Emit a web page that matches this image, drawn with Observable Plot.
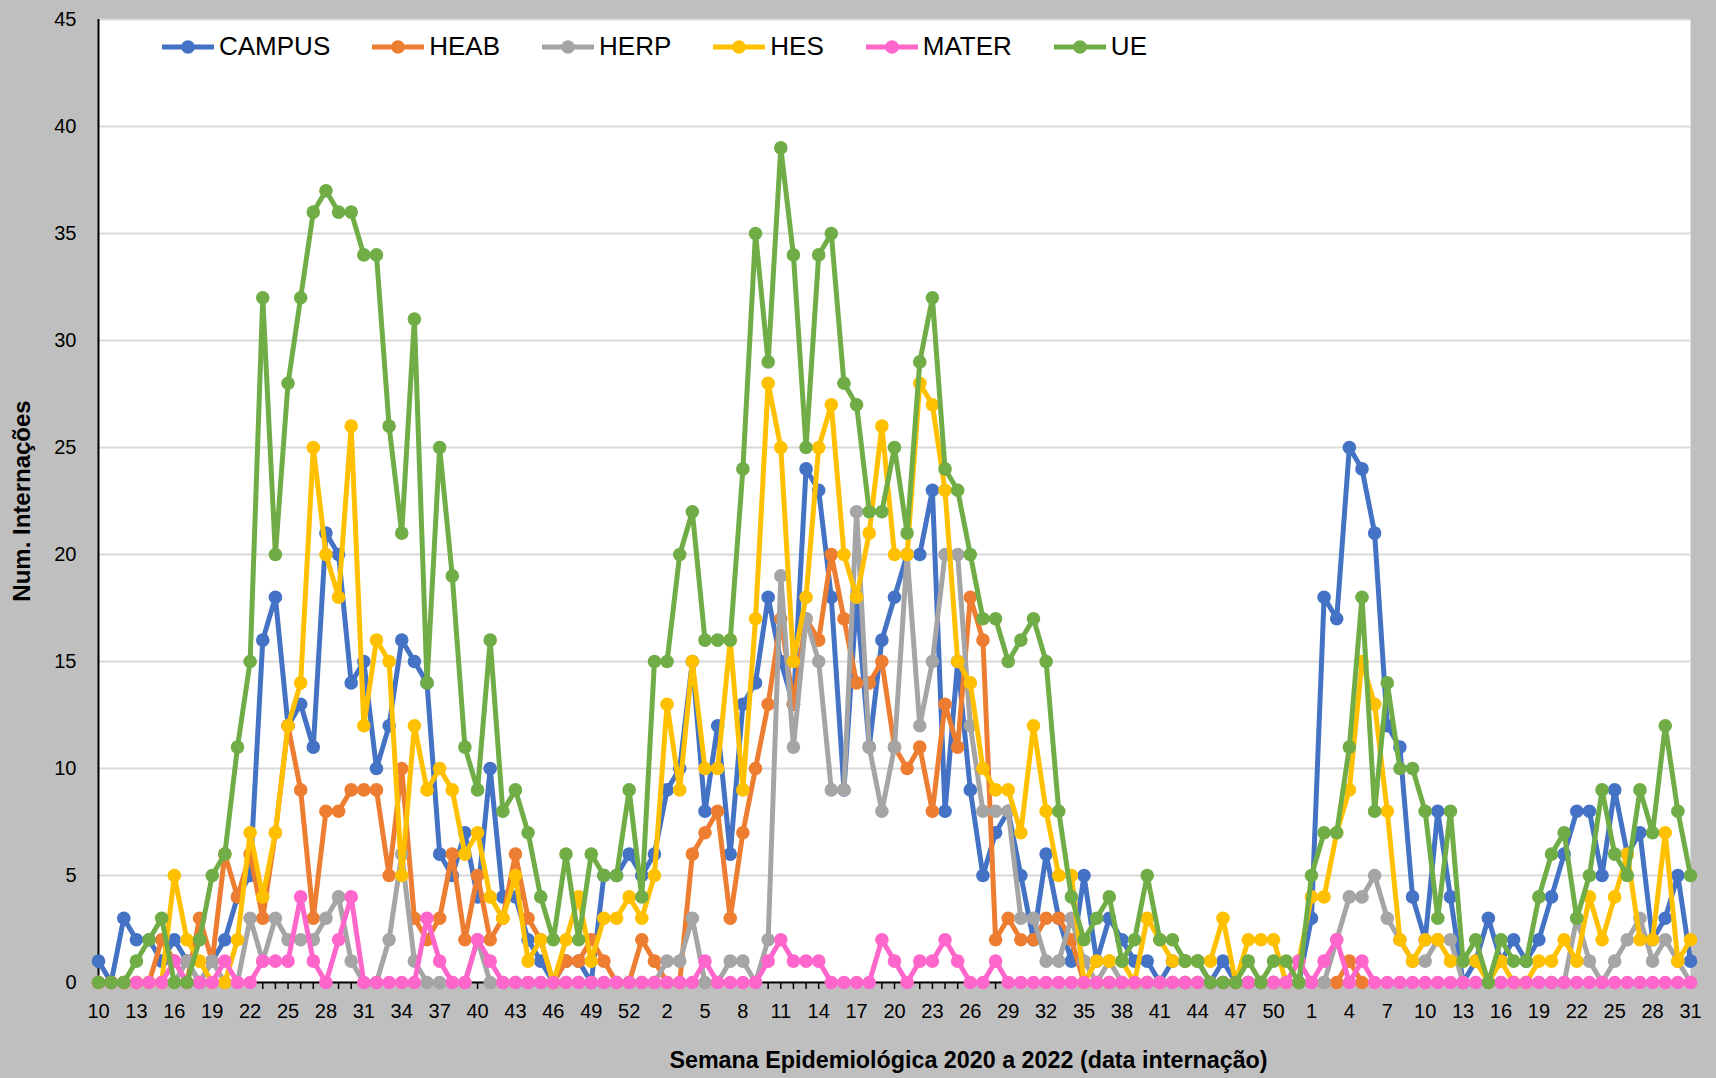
<!DOCTYPE html>
<html><head><meta charset="utf-8">
<script src="https://cdn.jsdelivr.net/npm/d3@7"></script>
<script src="https://cdn.jsdelivr.net/npm/@observablehq/plot@0.6"></script>
<style>
body{margin:0;background:#bfbfbf;}
#wrap{position:relative;width:1716px;height:1078px;font-family:"Liberation Sans",Arial,sans-serif;}
#legend{position:absolute;left:162px;top:31px;display:flex;gap:42px;align-items:center;font-size:26px;color:#000;}
.item{display:flex;align-items:center;gap:5px;}
.item svg{display:block;}
</style></head><body><div id="wrap"><div id="legend"></div></div>
<script>
const weeks2020 = [10,11,12,13,14,15,16,17,18,19,20,21,22,23,24,25,26,27,28,29,30,31,32,33,34,35,36,37,38,39,40,41,42,43,44,45,46,47,48,49,50,51,52,53];
const weeks2021 = [1,2,3,4,5,6,7,8,9,10,11,12,13,14,15,16,17,18,19,20,21,22,23,24,25,26,27,28,29,30,31,32,33,34,35,36,37,38,39,40,41,42,43,44,45,46,47,48,49,50,51,52];
const weeks2022 = [1,2,3,4,5,6,7,8,9,10,11,12,13,14,15,16,17,18,19,20,21,22,23,24,25,26,27,28,29,30,31];
const weeks = [...weeks2020, ...weeks2021, ...weeks2022];

const seriesNames = ["CAMPUS","HEAB","HERP","HES","MATER","UE"];
const seriesColors = ["#4472C4","#ED7D31","#A5A5A5","#FFC000","#FF66CC","#70AD47"];

const campus = [1,0,3,2,2,1,2,1,0,1, 2,4,5,16,18,12,13,11,21,20, 14,15,10,12,16,15,14,6,5,7, 4,10,4,4,2,1,0,1,1,0,
 5,5,6,5,6,9,10,15,8,12, 6,13,14,18,15,13,24,23,18,9, 18,11,16,18,20,20,23,8,15,9, 5,7,8,5,2,6,3,1,5,1,
 3,2,1,1,0,1,1,1,0,1, 0,0,0,0,0,0,3,18,17,25, 24,21,12,11,4,2,8,4,0,1, 3,1,2,1,2,4,6,8,8,5, 9,6,7,2,3,5,1];
const heab = [0,0,0,0,0,2,1,0,3,1, 6,4,6,3,7,12,9,3,8,8, 9,9,9,5,10,3,2,3,6,2, 5,2,3,6,3,2,0,1,1,2,
 1,0,0,2,1,0,0,6,7,8, 3,7,10,13,17,13,17,16,20,17, 14,14,15,11,10,11,8,13,11,18, 16,2,3,2,2,3,3,2,0,0,
 0,0,0,0,0,0,0,0,0,0, 0,0,0,0,0,0,null,0,0,1, 0,null,null,null,null,null,null,null,null,null,
 null,null,null,null,null,null,null,null,null,null, null,null,null,null,null,null,null];
const herp = [0,0,0,0,0,0,0,1,0,1, 0,0,3,1,3,2,2,2,3,4, 1,0,0,2,6,1,0,0,0,0, 2,0,0,0,0,0,0,0,0,0,
 0,0,0,0,0,1,1,3,0,0, 1,1,0,2,19,11,17,15,9,9, 22,11,8,11,20,12,15,20,20,12, 8,8,8,3,3,1,1,3,1,0,
 1,0,0,0,0,0,0,0,0,0, 0,0,0,0,0,0,0,0,2,4, 4,5,3,2,1,1,2,2,0,0, 0,0,0,0,0,0,0,3,1,0, 1,2,3,1,2,1,0];
const hes = [0,0,0,0,0,0,5,2,1,0, 0,2,7,4,7,12,14,25,20,18, 26,12,16,15,5,12,9,10,9,6, 7,4,3,5,1,2,0,2,4,1,
 3,3,4,3,5,13,9,15,10,10, 16,9,17,28,25,15,18,25,27,20, 18,21,26,20,20,28,27,23,15,14, 10,9,9,7,12,8,5,5,0,1,
 1,1,0,3,2,1,1,1,1,3, 0,2,2,2,0,1,4,4,7,9, 15,13,8,2,1,2,2,1,1,1, 0,1,0,0,1,1,2,1,4,2, 4,6,2,2,7,1,2];
const mater = [0,0,0,0,0,0,1,0,0,0, 1,0,0,1,1,1,4,1,0,2, 4,0,0,0,0,0,3,1,0,0, 2,1,0,0,0,0,0,0,0,0,
 0,0,0,0,0,0,0,0,1,0, 0,0,0,1,2,1,1,1,0,0, 0,0,2,1,0,1,1,2,1,0, 0,1,0,0,0,0,0,0,0,0,
 0,0,0,0,0,0,0,0,0,0, 0,0,0,0,0,1,0,1,2,0, 1,0,0,0,0,0,0,0,0,0, 0,0,0,0,0,0,0,0,0,0, 0,0,0,0,0,0,0];
const ue = [0,0,0,1,2,3,0,0,2,5, 6,11,15,32,20,28,32,36,37,36, 36,34,34,26,21,31,14,25,19,11, 9,16,8,9,7,4,2,6,2,6,
 5,5,9,4,15,15,20,22,16,16, 16,24,35,29,39,34,25,34,35,28, 27,22,22,25,21,29,32,24,23,20, 17,17,15,16,17,15,8,4,2,3,
 4,1,2,5,2,2,1,1,0,0, 0,1,0,1,1,0,5,7,7,11, 18,8,14,10,10,8,3,8,1,2, 0,2,1,1,4,6,7,3,5,9, 6,5,9,7,12,8,5];

const yTicks = [0,5,10,15,20,25,30,35,40,45];
const yTitle = "Num. Internações";
const xTitle = "Semana Epidemiológica 2020 a 2022 (data internação)";

const seriesValues = [campus, heab, herp, hes, mater, ue];
const idx = weeks.map((w, i) => i);
const labelIdx = idx.filter(i => i % 3 === 0);

const seriesMarks = [];
seriesNames.forEach((name, k) => {
  const d = seriesValues[k].map((v, i) => ({i, v, s: name}));
  seriesMarks.push(Plot.line(d, {x: "i", y: "v", stroke: "s", strokeWidth: 5, strokeLinejoin: "round", strokeLinecap: "round"}));
  seriesMarks.push(Plot.dot(d.filter(e => e.v != null), {x: "i", y: "v", fill: "s", r: 6.8, stroke: null}));
});

const chart = Plot.plot({
  width: 1716, height: 1078,
  marginLeft: 98, marginRight: 26, marginTop: 19, marginBottom: 96,
  style: {background: "#bfbfbf", fontFamily: "'Liberation Sans', Arial, sans-serif", fontSize: "20px", color: "#000"},
  x: {type: "linear", domain: [0, weeks.length - 1]},
  y: {domain: [0, 45]},
  color: {domain: seriesNames, range: seriesColors},
  marks: [
    Plot.frame({fill: "white", stroke: null}),
    Plot.gridY(yTicks, {stroke: "#d9d9d9", strokeWidth: 2, strokeOpacity: 1}),
    Plot.axisY(yTicks, {tickSize: 0, tickPadding: 22, label: null, fontSize: 20}),
    Plot.axisX(idx, {tickSize: 7, tickFormat: () => "", label: null, strokeWidth: 1.5}),
    Plot.axisX(labelIdx, {tickSize: 0, tickPadding: 21, tickFormat: i => weeks[i], label: null, fontSize: 20}),
    Plot.ruleX([0], {stroke: "#000", strokeWidth: 2}),
    Plot.ruleY([0], {stroke: "#000", strokeWidth: 2}),
    ...seriesMarks,
    Plot.text([yTitle], {frameAnchor: "left", textAnchor: "middle", dx: -76, rotate: -90, fontWeight: "bold", fontSize: 24, fill: "#000"}),
    Plot.text([xTitle], {frameAnchor: "bottom", lineAnchor: "middle", textAnchor: "middle", dy: 78, dx: 74, fontWeight: "bold", fontSize: 23.3, fill: "#000"})
  ]
});
document.getElementById("wrap").prepend(chart);

const legend = document.getElementById("legend");
seriesNames.forEach((name, k) => {
  const item = document.createElement("div");
  item.className = "item";
  item.innerHTML = `<svg width="52" height="16"><line x1="0" y1="8" x2="52" y2="8" stroke="${seriesColors[k]}" stroke-width="5"/><circle cx="26" cy="8" r="6.8" fill="${seriesColors[k]}"/></svg><span>${name}</span>`;
  legend.appendChild(item);
});
</script>
</body></html>
